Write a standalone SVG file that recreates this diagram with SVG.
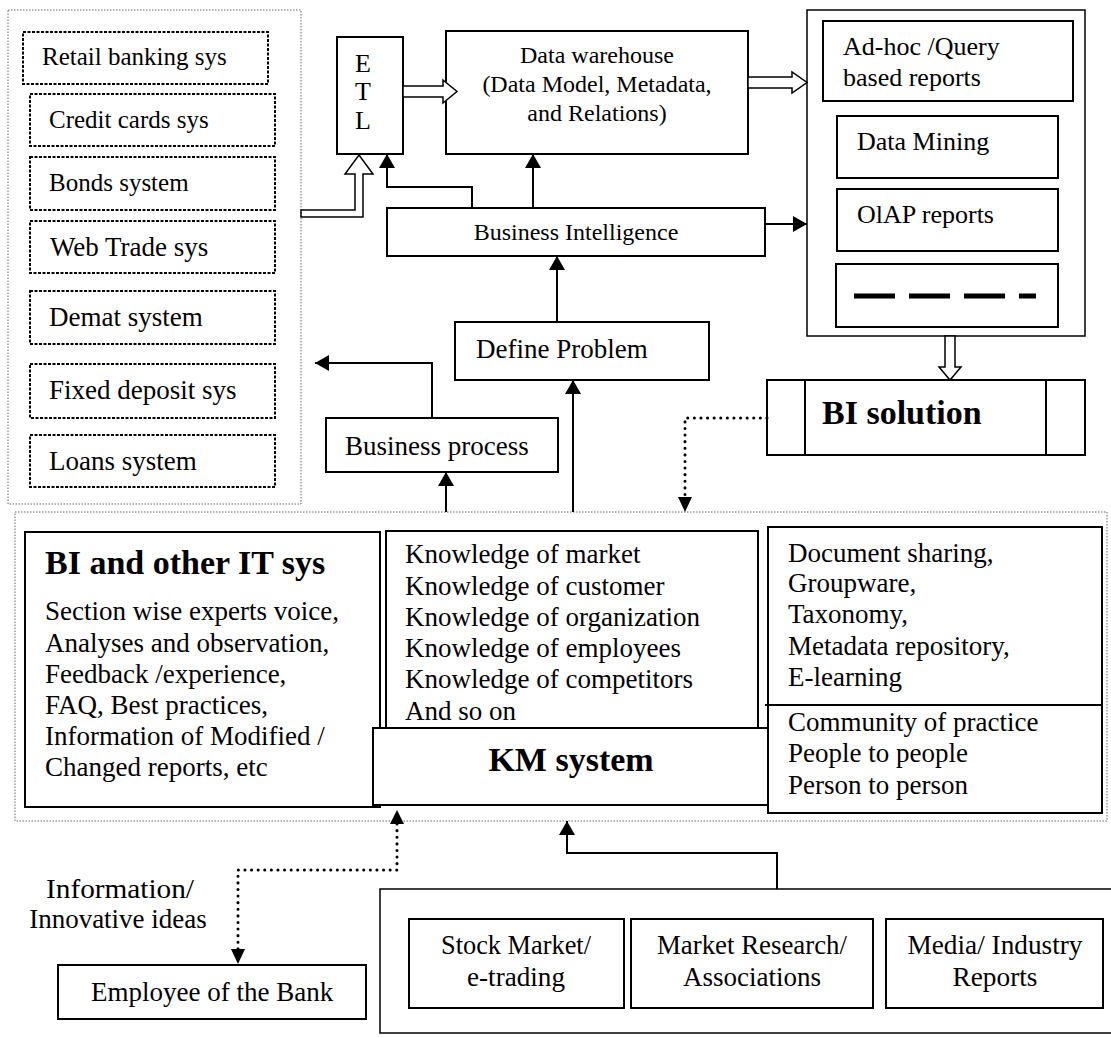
<svg xmlns="http://www.w3.org/2000/svg" width="1111" height="1038" viewBox="0 0 1111 1038">
  <style>
    text { font-family: "Liberation Serif", "Times New Roman", serif; fill: #000; }
    .t25 { font-size: 25px; }
    .t26 { font-size: 26px; }
    .t24 { font-size: 24px; }
    .t27 { font-size: 27px; }
    .bold { font-weight: bold; }
    .mid { text-anchor: middle; }
    .box { fill: #fff; stroke: #000; stroke-width: 2; }
    .thin { fill: none; stroke: #000; stroke-width: 1.5; }
    .src { fill: none; stroke: #000; stroke-width: 2; stroke-dasharray: 3 1.5; }
    .area { fill: none; stroke: #666; stroke-width: 1; stroke-dasharray: 1.5 1.5; }
    .hollow { fill: #fff; stroke: #000; stroke-width: 1.5; stroke-linejoin: miter; }
    .link { fill: none; stroke: #000; stroke-width: 2; marker-end: url(#head); }
    .dots { fill: none; stroke: #000; stroke-width: 3; stroke-linecap: round; stroke-dasharray: 0.1 6.5; }
  </style>
  <defs>
    <marker id="head" viewBox="0 0 14 16" refX="14" refY="8" markerWidth="14" markerHeight="16" markerUnits="userSpaceOnUse" orient="auto-start-reverse">
      <path d="M0,0 L14,8 L0,16 z" fill="#000"/>
    </marker>
  </defs>

  <!-- Source systems -->
  <g id="source-systems">
    <rect class="area" x="8" y="10" width="293" height="494"/>
    <g id="retail-banking"><rect class="src" x="23" y="32" width="245" height="52"/><text class="t25" x="42" y="65">Retail banking sys</text></g>
    <g id="credit-cards"><rect class="src" x="30" y="94" width="245" height="52"/><text class="t25" x="49" y="128">Credit cards sys</text></g>
    <g id="bonds"><rect class="src" x="30" y="157" width="245" height="53"/><text class="t25" x="49" y="191">Bonds system</text></g>
    <g id="web-trade"><rect class="src" x="30" y="221" width="245" height="52"/><text class="t27" x="50" y="256">Web Trade sys</text></g>
    <g id="demat"><rect class="src" x="30" y="291" width="245" height="53"/><text class="t27" x="49" y="326">Demat system</text></g>
    <g id="fixed-deposit"><rect class="src" x="30" y="364" width="245" height="54"/><text class="t27" x="49" y="399">Fixed deposit sys</text></g>
    <g id="loans"><rect class="src" x="30" y="435" width="245" height="52"/><text class="t27" x="49" y="470">Loans system</text></g>
  </g>

  <!-- ETL -->
  <g id="etl">
    <rect class="box" x="337" y="37" width="66" height="117"/>
    <text class="t26 mid" x="363" y="72">E</text>
    <text class="t26 mid" x="363" y="100">T</text>
    <text class="t26 mid" x="363" y="129">L</text>
  </g>

  <!-- Data warehouse -->
  <g id="data-warehouse">
    <rect class="box" x="446" y="31" width="302" height="123"/>
    <text class="t24 mid" x="597" y="63">Data warehouse</text>
    <text class="t24 mid" x="597" y="92">(Data Model, Metadata,</text>
    <text class="t24 mid" x="597" y="121">and Relations)</text>
  </g>

  <!-- Reporting tools -->
  <g id="reports">
    <rect class="thin" x="807" y="10" width="278" height="326"/>
    <g id="adhoc"><rect class="box" x="823" y="21" width="250" height="80"/><text class="t26" x="843" y="55">Ad-hoc /Query</text><text class="t26" x="843" y="86">based reports</text></g>
    <g id="data-mining"><rect class="box" x="837" y="116" width="221" height="62"/><text class="t26" x="857" y="150">Data Mining</text></g>
    <g id="olap"><rect class="box" x="837" y="189" width="221" height="62"/><text class="t26" x="857" y="223">OlAP reports</text></g>
    <g id="more-reports"><rect class="box" x="836" y="264" width="222" height="63"/><line x1="854" y1="296" x2="1036" y2="296" stroke="#000" stroke-width="5" stroke-dasharray="41 14"/></g>
  </g>

  <!-- BI solution -->
  <g id="bi-solution">
    <rect class="box" x="767" y="380" width="318" height="75"/>
    <line x1="805" y1="380" x2="805" y2="455" stroke="#000" stroke-width="2"/>
    <line x1="1046" y1="380" x2="1046" y2="455" stroke="#000" stroke-width="2"/>
    <text class="bold" font-size="34" x="822" y="424">BI solution</text>
  </g>

  <!-- Business Intelligence -->
  <g id="business-intelligence">
    <rect class="box" x="387" y="208" width="378" height="48"/>
    <text class="t24 mid" x="576" y="240">Business Intelligence</text>
  </g>

  <!-- Define Problem -->
  <g id="define-problem">
    <rect class="box" x="455" y="322" width="254" height="58"/>
    <text class="t27" x="476" y="358">Define Problem</text>
  </g>

  <!-- Business process -->
  <g id="business-process">
    <rect class="box" x="326" y="418" width="232" height="54"/>
    <text class="t27" x="345" y="455">Business process</text>
  </g>

  <!-- Knowledge management area -->
  <g id="km-area">
    <rect class="area" x="15" y="512" width="1092" height="309"/>
  </g>

  <g id="bi-it-sys">
    <rect class="box" x="25" y="532" width="355" height="275"/>
    <text class="bold" font-size="34" x="45" y="574">BI and other IT sys</text>
    <text class="t27" x="45" y="620">Section wise experts voice,</text>
    <text class="t27" x="45" y="652">Analyses and observation,</text>
    <text class="t27" x="45" y="683">Feedback /experience,</text>
    <text class="t27" x="45" y="714">FAQ, Best practices,</text>
    <text class="t27" x="45" y="745">Information of Modified /</text>
    <text class="t27" x="45" y="776">Changed reports, etc</text>
  </g>

  <g id="knowledge">
    <rect class="box" x="386" y="531" width="372" height="200"/>
    <text class="t27" x="405" y="563">Knowledge of market</text>
    <text class="t27" x="405" y="595">Knowledge of customer</text>
    <text class="t27" x="405" y="626">Knowledge of organization</text>
    <text class="t27" x="405" y="657">Knowledge of employees</text>
    <text class="t27" x="405" y="688">Knowledge of competitors</text>
    <text class="t27" x="405" y="720">And so on</text>
  </g>

  <g id="km-system">
    <rect class="box" x="373" y="728" width="395" height="77"/>
    <text class="bold mid" font-size="34" x="571" y="771">KM system</text>
  </g>

  <g id="collaboration">
    <rect class="box" x="768" y="527" width="334" height="286"/>
    <line x1="765" y1="705" x2="1102" y2="705" stroke="#000" stroke-width="2"/>
    <text class="t27" x="788" y="562">Document sharing,</text>
    <text class="t27" x="788" y="592">Groupware,</text>
    <text class="t27" x="788" y="623">Taxonomy,</text>
    <text class="t27" x="788" y="655">Metadata repository,</text>
    <text class="t27" x="788" y="686">E-learning</text>
    <text class="t27" x="788" y="731">Community of practice</text>
    <text class="t27" x="788" y="762">People to people</text>
    <text class="t27" x="788" y="794">Person to person</text>
  </g>

  <!-- Employee -->
  <g id="employee">
    <rect class="box" x="58" y="965" width="308" height="54"/>
    <text class="t27" x="91" y="1001">Employee of the Bank</text>
  </g>
  <text class="t27 mid" x="120" y="898" textLength="148" lengthAdjust="spacingAndGlyphs">Information/</text>
  <text class="t27 mid" x="118" y="928">Innovative ideas</text>

  <!-- External sources -->
  <g id="external-sources">
    <rect class="thin" x="380" y="889" width="760" height="144"/>
    <g id="stock-market"><rect class="box" x="409" y="919" width="215" height="89"/><text class="t27 mid" x="516" y="954" textLength="150" lengthAdjust="spacingAndGlyphs">Stock Market/</text><text class="t27 mid" x="516" y="986" textLength="98" lengthAdjust="spacingAndGlyphs">e-trading</text></g>
    <g id="market-research"><rect class="box" x="631" y="919" width="242" height="89"/><text class="t27 mid" x="752" y="954" textLength="190" lengthAdjust="spacingAndGlyphs">Market Research/</text><text class="t27 mid" x="752" y="986" textLength="138" lengthAdjust="spacingAndGlyphs">Associations</text></g>
    <g id="media"><rect class="box" x="886" y="919" width="217" height="89"/><text class="t27 mid" x="995" y="954" textLength="175" lengthAdjust="spacingAndGlyphs">Media/ Industry</text><text class="t27 mid" x="995" y="986" textLength="85" lengthAdjust="spacingAndGlyphs">Reports</text></g>
  </g>

  <!-- Connectors -->
  <g id="connectors">
    <!-- wide hollow arrows -->
    <polygon class="hollow" points="301,210 355,210 355,174 345,174 359,155 373,174 363,174 363,217 301,217"/>
    <polygon class="hollow" points="403,86 443,86 443,80 457,91.5 443,103 443,97 403,97"/>
    <polygon class="hollow" points="748,77 792,77 792,72 807,82.5 792,93 792,88 748,88"/>
    <polygon class="hollow" points="945,336 955,336 955,367 961,367 950,380 939,367 945,367"/>
    <!-- solid arrows -->
    <path class="link" d="M533,208 L533,154"/>
    <path class="link" d="M472,208 L472,187 L387,187 L387,154"/>
    <path class="link" d="M765,224 L807,224"/>
    <path class="link" d="M557,322 L557,256"/>
    <path class="link" d="M573,512 L573,380"/>
    <path class="link" d="M446,512 L446,472"/>
    <path class="link" d="M432,418 L432,363 L315,363"/>
    <path class="link" d="M777,889 L777,853 L567,853 L567,821"/>
    <!-- dotted arrows -->
    <path class="dots" d="M767,418 L685,418 L685,500"/>
    <path d="M678,497 L692,497 L685,512 z" fill="#000"/>
    <path class="dots" d="M397,824 L397,870 L238,870 L238,950"/>
    <path d="M390,824 L404,824 L397,810 z" fill="#000"/>
    <path d="M231,949 L245,949 L238,964 z" fill="#000"/>
  </g>
</svg>
